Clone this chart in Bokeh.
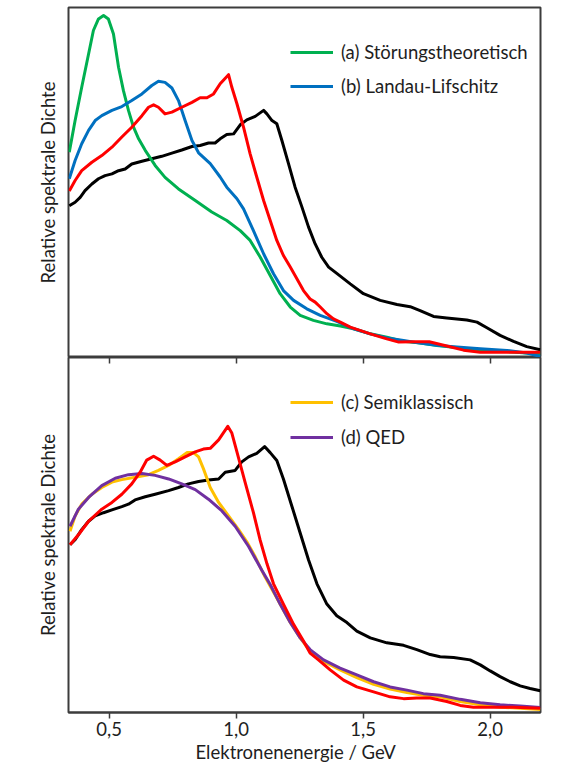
from bokeh.plotting import figure
from bokeh.models import (Range1d, Legend, LegendItem, FixedTicker,
                          CustomJSTickFormatter, LinearAxis, Title)
from bokeh.layouts import column
from bokeh.embed import file_html
from bokeh.resources import INLINE

FONT = "Lato"
FS = "18.5px"

# ---------------- data: top panel ----------------
green_x = [0.343, 0.366, 0.392, 0.419, 0.438, 0.458, 0.478, 0.497, 0.517, 0.537, 0.556, 0.576,
           0.596, 0.616, 0.642, 0.681, 0.720, 0.773, 0.839, 0.904, 0.963, 1.016, 1.055, 1.095,
           1.134, 1.173, 1.213, 1.252, 1.304, 1.357, 1.410, 1.462, 1.528, 1.593, 1.659, 1.724,
           1.790, 1.856, 1.921, 2.020, 2.100, 2.197]
green_y = [58.6, 67.6, 77.1, 86.6, 93.3, 96.6, 97.6, 96.6, 92.3, 82.8, 76.2, 70.5,
           65.7, 62.4, 59.1, 54.8, 51.4, 48.1, 44.8, 41.5, 39.1, 36.2, 33.4, 28.6,
           23.4, 18.2, 14.4, 12.0, 10.6, 9.6, 9.0, 8.2, 6.75, 5.8, 4.6, 4.1,
           3.4, 2.95, 2.4, 1.9, 1.5, 1.0]

blue_x = [0.343, 0.366, 0.392, 0.419, 0.445, 0.471, 0.511, 0.550, 0.589, 0.629, 0.668, 0.694,
          0.720, 0.747, 0.773, 0.799, 0.826, 0.852, 0.898, 0.937, 0.963, 1.003, 1.029, 1.068,
          1.108, 1.147, 1.186, 1.226, 1.278, 1.331, 1.396, 1.462, 1.528, 1.593, 1.659, 1.724,
          1.790, 1.856, 1.961, 2.066, 2.144, 2.197]
blue_y = [51.0, 56.2, 61.0, 64.8, 67.6, 69.0, 70.5, 71.6, 73.3, 75.2, 77.6, 78.8,
          78.5, 76.9, 73.3, 67.6, 61.9, 58.4, 55.3, 51.5, 48.6, 45.3, 42.4, 36.2,
          29.6, 23.9, 19.1, 16.3, 13.9, 12.0, 10.3, 8.2, 6.75, 5.6, 4.85, 4.1,
          3.5, 3.1, 2.5, 2.0, 1.3, 0.3]

red_top_x = [0.343, 0.366, 0.392, 0.432, 0.471, 0.511, 0.550, 0.589, 0.629, 0.655, 0.675, 0.694,
             0.720, 0.747, 0.786, 0.826, 0.858, 0.885, 0.911, 0.937, 0.970, 0.983, 1.003, 1.029,
             1.055, 1.081, 1.108, 1.134, 1.160, 1.186, 1.213, 1.239, 1.265, 1.291, 1.311, 1.331,
             1.357, 1.383, 1.410, 1.449, 1.528, 1.593, 1.640, 1.700, 1.760, 1.829, 1.895, 1.961,
             2.066, 2.197]
red_top_y = [47.5, 50.5, 53.3, 55.7, 57.6, 60.0, 62.9, 65.7, 69.0, 71.4, 72.1, 71.4,
             69.5, 70.0, 71.4, 72.8, 74.1, 74.1, 75.2, 78.1, 80.7, 77.1, 72.4, 65.7,
             58.1, 51.5, 44.8, 39.1, 33.4, 29.1, 25.8, 22.5, 19.1, 16.7, 15.8, 14.4,
             12.5, 11.0, 10.1, 8.65, 6.75, 5.3, 4.4, 4.5, 4.5, 3.3, 2.1, 1.5,
             1.5, 1.5]

black_top_x = [0.343, 0.366, 0.386, 0.405, 0.432, 0.458, 0.484, 0.511, 0.537, 0.563, 0.589, 0.629,
               0.668, 0.707, 0.747, 0.786, 0.826, 0.858, 0.891, 0.917, 0.937, 0.963, 0.990, 1.016,
               1.042, 1.075, 1.108, 1.121, 1.141, 1.160, 1.180, 1.206, 1.232, 1.259, 1.285, 1.311,
               1.337, 1.364, 1.396, 1.449, 1.501, 1.567, 1.633, 1.685, 1.724, 1.777, 1.829, 1.908,
               1.948, 1.987, 2.039, 2.092, 2.144, 2.197]
black_top_y = [43.3, 44.3, 45.7, 47.6, 49.5, 51.0, 51.9, 52.4, 53.3, 53.8, 55.2, 56.0,
               56.7, 57.4, 58.3, 59.2, 60.2, 60.5, 61.2, 61.2, 62.4, 63.6, 63.8, 66.4,
               67.8, 68.8, 70.5, 69.5, 67.6, 66.7, 61.9, 55.3, 48.6, 42.9, 37.2, 32.4,
               28.6, 25.8, 24.0, 21.0, 18.2, 16.3, 15.1, 14.5, 13.4, 11.7, 11.3, 10.7,
               10.1, 8.5, 6.3, 4.6, 3.1, 2.2]

# ---------------- data: bottom panel ----------------
black_bot_x = [0.346, 0.366, 0.392, 0.419, 0.445, 0.478, 0.511, 0.550, 0.576, 0.602, 0.642, 0.681,
               0.734, 0.773, 0.812, 0.852, 0.891, 0.931, 0.957, 0.996, 1.022, 1.049, 1.081, 1.112,
               1.134, 1.160, 1.186, 1.219, 1.252, 1.285, 1.318, 1.357, 1.396, 1.436, 1.475, 1.528,
               1.593, 1.659, 1.711, 1.764, 1.803, 1.856, 1.921, 1.961, 2.000, 2.039, 2.079, 2.118,
               2.157, 2.197]
black_bot_y = [47.2, 48.6, 51.45, 53.8, 55.3, 56.2, 57.0, 57.9, 58.6, 59.8, 60.7, 61.4,
               62.4, 63.3, 64.3, 65.0, 65.4, 65.7, 67.6, 68.1, 70.5, 71.9, 72.9, 74.8,
               73.1, 70.9, 65.7, 58.1, 50.5, 42.9, 36.2, 30.5, 27.2, 25.3, 22.9, 21.0,
               19.6, 18.9, 17.7, 16.3, 15.7, 15.5, 14.8, 13.4, 11.7, 10.1, 8.65, 7.5,
               6.75, 6.1]

red_bot_x = [0.346, 0.379, 0.419, 0.471, 0.511, 0.550, 0.589, 0.622, 0.648, 0.675, 0.701, 0.727,
             0.760, 0.799, 0.839, 0.871, 0.898, 0.931, 0.967, 0.983, 1.003, 1.035, 1.068, 1.094,
             1.121, 1.147, 1.186, 1.226, 1.265, 1.291, 1.324, 1.370, 1.423, 1.475, 1.541, 1.606,
             1.659, 1.711, 1.764, 1.829, 1.882, 1.934, 2.013, 2.092, 2.197]
red_bot_y = [47.2, 50.0, 53.8, 57.2, 59.1, 61.4, 64.3, 67.6, 71.0, 72.1, 71.0, 69.5,
             70.5, 71.9, 73.3, 74.1, 74.3, 76.7, 80.5, 78.6, 73.3, 64.8, 56.2, 48.6,
             41.9, 36.2, 30.5, 24.8, 20.1, 16.7, 14.8, 12.0, 9.1, 7.2, 5.8, 4.4,
             3.9, 4.1, 4.1, 3.1, 2.0, 1.5, 1.5, 1.5, 1.2]

yellow_x = [0.346, 0.366, 0.392, 0.432, 0.471, 0.511, 0.550, 0.602, 0.655, 0.694, 0.734, 0.773,
            0.806, 0.832, 0.852, 0.871, 0.898, 0.931, 0.970, 1.009, 1.042, 1.075, 1.114, 1.154,
            1.173, 1.213, 1.252, 1.291, 1.344, 1.409, 1.475, 1.541, 1.606, 1.672, 1.737, 1.803,
            1.882, 1.961, 2.039, 2.118, 2.197]
yellow_y = [51.0, 55.3, 58.6, 61.4, 63.3, 64.8, 65.5, 66.2, 66.9, 68.1, 69.5, 71.4,
            73.1, 73.1, 71.9, 68.6, 63.3, 59.1, 55.3, 51.5, 48.0, 43.8, 38.1, 33.0,
            30.5, 25.3, 21.0, 17.2, 14.4, 12.0, 9.8, 7.9, 6.6, 5.6, 4.85, 4.4,
            3.1, 2.2, 1.5, 1.2, 0.85]

purple_x = [0.346, 0.379, 0.419, 0.471, 0.524, 0.576, 0.629, 0.681, 0.734, 0.786, 0.839, 0.891,
            0.944, 0.996, 1.049, 1.101, 1.134, 1.173, 1.213, 1.252, 1.291, 1.344, 1.409, 1.475,
            1.541, 1.606, 1.672, 1.737, 1.803, 1.882, 1.961, 2.039, 2.118, 2.197]
purple_y = [52.4, 57.2, 60.5, 63.8, 65.9, 66.9, 67.2, 66.7, 65.7, 64.3, 62.7, 60.0,
            56.7, 52.4, 46.7, 40.0, 36.0, 30.5, 25.3, 21.0, 17.7, 14.8, 12.5, 10.6,
            8.65, 7.2, 6.3, 5.3, 4.85, 3.7, 2.75, 2.2, 1.8, 1.4]

labels_top = ["(a) Störungstheoretisch", "(b) Landau-Lifschitz"]
labels_bot = ["(c) Semiklassisch", "(d) QED"]
tick_values = [0.5, 1.0, 1.5, 2.0]
x_title = "Elektronenenergie / GeV"
y_title = "Relative spektrale Dichte"

C_GREEN = "#00B050"
C_BLUE = "#0070C0"
C_RED = "#FF0000"
C_BLACK = "#000000"
C_YELLOW = "#FFC000"
C_PURPLE = "#7030A0"
FRAME = "#3c3c3c"
TXT = "#1e1e1e"

X0, X1 = 0.34, 2.198
LW = 3
PX_PER_UNIT = 3.505
FRAME_H = 350


def base_fig(height, below, min_top):
    p = figure(width=556, height=height, x_range=Range1d(X0, X1),
               y_range=Range1d(0, FRAME_H / PX_PER_UNIT),
               output_backend="svg", toolbar_location=None,
               x_axis_location="below" if below else None, y_axis_location="left",
               min_border_left=68, min_border_right=16, min_border_top=min_top,
               min_border_bottom=0, background_fill_color="white", border_fill_color="white")
    p.grid.visible = False
    p.outline_line_color = FRAME
    p.outline_line_width = 2
    ya = p.yaxis[0]
    ya.ticker = FixedTicker(ticks=[])
    ya.major_tick_out = 0
    ya.major_tick_in = 0
    ya.minor_tick_out = 0
    ya.major_label_text_font_size = "0px"
    ya.major_label_standoff = 0
    ya.axis_line_color = None
    ya.axis_label = y_title
    ya.axis_label_standoff = 10
    ya.axis_label_text_font = FONT
    ya.axis_label_text_font_size = FS
    ya.axis_label_text_font_style = "normal"
    ya.axis_label_text_color = TXT
    return p


def add_legend(p, items, loc, spacing):
    leg = Legend(items=items, location=loc, orientation="vertical",
                 glyph_width=43, glyph_height=24, label_height=24, label_standoff=8,
                 spacing=spacing, padding=0, margin=0, border_line_color=None,
                 background_fill_alpha=0, label_text_font=FONT, label_text_font_size=FS,
                 label_text_color=TXT)
    p.add_layout(leg)


# ---------- top panel ----------
top = base_fig(7 + FRAME_H, False, 7)
top.line(black_top_x, black_top_y, line_color=C_BLACK, line_width=LW, line_join="round")
rg = top.line(green_x, green_y, line_color=C_GREEN, line_width=LW, line_join="round")
rb = top.line(blue_x, blue_y, line_color=C_BLUE, line_width=LW, line_join="round")
top.line(red_top_x, red_top_y, line_color=C_RED, line_width=LW, line_join="round")
add_legend(top, [LegendItem(label=labels_top[0], renderers=[rg]),
                 LegendItem(label=labels_top[1], renderers=[rb])], (222, 259), 10)

# ---------- bottom panel ----------
bot = base_fig(FRAME_H + 55, True, 0)
xa = bot.xaxis[0]
xa.ticker = FixedTicker(ticks=tick_values)
xa.formatter = CustomJSTickFormatter(code="return tick.toFixed(1).replace('.', ',');")
xa.major_tick_out = 6
xa.major_tick_in = 0
xa.minor_tick_out = 0
xa.minor_tick_in = 0
xa.major_tick_line_color = FRAME
xa.major_tick_line_width = 1.5
xa.axis_line_color = FRAME
xa.axis_line_width = 2
xa.major_label_standoff = 3
xa.major_label_text_font = FONT
xa.major_label_text_font_size = FS
xa.major_label_text_color = TXT

ta = LinearAxis(ticker=FixedTicker(ticks=tick_values),
                formatter=CustomJSTickFormatter(code="return '';"),
                major_tick_in=6, major_tick_out=0, minor_tick_in=0, minor_tick_out=0,
                major_tick_line_color=FRAME, major_tick_line_width=1.5,
                axis_line_color=None, major_label_standoff=0,
                major_label_text_font_size="0px")
bot.add_layout(ta, "above")

bot.add_layout(Title(text=x_title, align="left", offset=127, standoff=0,
                     text_font=FONT, text_font_size=FS, text_font_style="normal",
                     text_color=TXT), "below")

bot.line(black_bot_x, black_bot_y, line_color=C_BLACK, line_width=LW, line_join="round")
ry = bot.line(yellow_x, yellow_y, line_color=C_YELLOW, line_width=LW, line_join="round")
rp = bot.line(purple_x, purple_y, line_color=C_PURPLE, line_width=LW, line_join="round")
bot.line(red_bot_x, red_bot_y, line_color=C_RED, line_width=LW, line_join="round")
add_legend(bot, [LegendItem(label=labels_bot[0], renderers=[ry]),
                 LegendItem(label=labels_bot[1], renderers=[rp])], (222, 263), 11)

layout = column(top, bot, spacing=0)
open("out.html", "w").write(file_html(layout, INLINE))
